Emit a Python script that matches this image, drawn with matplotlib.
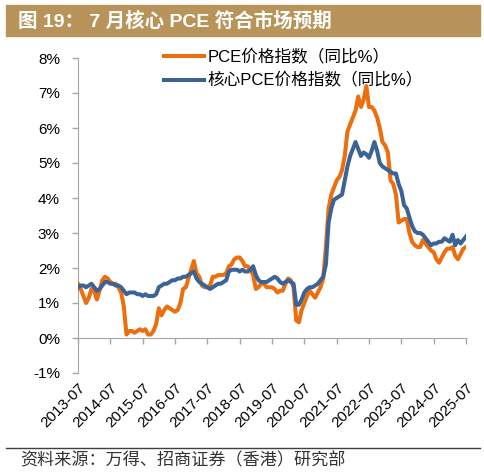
import numpy as np
import matplotlib.pyplot as plt
from matplotlib.patches import Rectangle
from matplotlib.lines import Line2D

plt.rcParams['font.family'] = ['Liberation Sans', 'Noto Sans CJK SC', 'DejaVu Sans']

# monthly YoY, 2013-07 .. 2025-07
pce = [1.55, 1.4, 1.2, 1.0, 1.15, 1.4,
       1.35, 1.1, 1.35, 1.65, 1.75, 1.7, 1.6, 1.55, 1.55, 1.45, 1.3, 0.9,
       0.1, 0.2, 0.2, 0.15, 0.2, 0.25, 0.2, 0.25, 0.1, 0.1, 0.2, 0.4,
       0.85, 0.65, 0.8, 0.9, 0.85, 0.8, 0.75, 0.8, 1.0, 1.4, 1.45, 1.7,
       1.95, 2.2, 1.85, 1.75, 1.5, 1.45, 1.45, 1.5, 1.75, 1.75, 1.8, 1.8,
       1.8, 1.85, 2.05, 2.1, 2.25, 2.3, 2.3, 2.2, 2.05, 2.05, 1.95, 1.8,
       1.4, 1.45, 1.55, 1.55, 1.45, 1.45, 1.45, 1.4, 1.3, 1.35, 1.35, 1.55,
       1.7, 1.65, 1.45, 0.5, 0.45, 0.8, 1.0, 1.2, 1.35, 1.25, 1.15, 1.3,
       1.45, 1.7, 2.6, 3.7, 4.1, 4.3, 4.5, 4.6, 4.8, 5.2, 5.9, 6.1,
       6.3, 6.5, 6.9, 6.6, 6.8, 7.2, 6.6, 6.6, 6.5, 6.3, 6.0, 5.6,
       5.5, 5.3, 4.5, 4.4, 4.1, 3.3, 3.35, 3.4, 3.4, 3.0, 2.75, 2.65,
       2.6, 2.6, 2.8, 2.7, 2.6, 2.5, 2.45, 2.25, 2.15, 2.3, 2.45, 2.55,
       2.55, 2.6, 2.35, 2.25, 2.4, 2.55, 2.6]
core = [1.45, 1.5, 1.5, 1.45, 1.5, 1.55,
        1.45, 1.35, 1.4, 1.5, 1.6, 1.6, 1.55, 1.55, 1.5, 1.5, 1.45, 1.35,
        1.25, 1.3, 1.3, 1.3, 1.25, 1.25, 1.2, 1.25, 1.2, 1.2, 1.2, 1.25,
        1.45, 1.5, 1.55, 1.55, 1.6, 1.65, 1.65, 1.7, 1.7, 1.75, 1.75, 1.8,
        1.85, 1.9, 1.7, 1.6, 1.55, 1.5, 1.45, 1.4, 1.45, 1.5, 1.55, 1.55,
        1.6, 1.65, 1.9, 1.95, 1.95, 1.95, 1.9, 1.95, 1.9, 1.9, 1.95, 2.05,
        1.8, 1.65, 1.6, 1.6, 1.6, 1.65, 1.7, 1.75, 1.7, 1.6, 1.55, 1.6,
        1.65, 1.6, 1.55, 0.95, 0.95, 1.1, 1.3, 1.4, 1.45, 1.45, 1.5, 1.55,
        1.65, 1.75, 2.1, 3.3, 3.7, 3.95, 4.0, 4.05, 4.1, 4.5, 4.9, 5.2,
        5.4, 5.6, 5.4, 5.2, 5.3, 5.25, 5.15, 5.35, 5.6, 5.35, 5.0, 4.9,
        4.85, 4.8, 4.75, 4.7, 4.7, 4.4, 4.2, 3.8, 3.7, 3.45, 3.2, 3.05,
        3.0, 3.0, 2.95, 2.85, 2.75, 2.65, 2.7, 2.7, 2.75, 2.75, 2.85, 2.8,
        2.75, 2.95, 2.65, 2.8, 2.7, 2.8, 2.9]
years = ['2013-07', '2014-07', '2015-07', '2016-07', '2017-07', '2018-07', '2019-07',
         '2020-07', '2021-07', '2022-07', '2023-07', '2024-07', '2025-07']
labels = ['PCE价格指数（同比%）', '核心PCE价格指数（同比%）']

orange = '#EC6E0D'
blue = '#3B6396'
grey = '#A6A6A6'

W, H = 485, 474
fig = plt.figure(figsize=(W / 100, H / 100), dpi=100)

# title bar
fig.patches.append(Rectangle((6 / W, 1 - 36 / H), 474 / W, 31 / H,
                             transform=fig.transFigure, color='#B8945A', zorder=0))
fig.text(18 / W, 1 - 21 / H, '图 19： 7 月核心 PCE 符合市场预期', color='white',
         fontsize=14, fontweight='bold', va='center', ha='left')

ax = fig.add_axes([78 / W, 1 - 373 / H, 388 / W, 315 / H])
x = np.arange(len(pce))
ax.plot(x, pce, color=orange, lw=2.9, solid_joinstyle='round', label=labels[0], zorder=3)
ax.plot(x, core, color=blue, lw=2.9, solid_joinstyle='round', label=labels[1], zorder=4)

ax.set_xlim(0, len(pce) - 1)
ax.set_ylim(-1, 8)
ax.set_yticks(range(-1, 9))
ax.set_yticklabels([f'{v}%' for v in range(-1, 9)])
ax.set_xticks(np.arange(0, len(pce), 12))
ax.set_xticklabels(years)

for s in ['top', 'right']:
    ax.spines[s].set_visible(False)
ax.spines['left'].set_color(grey)
ax.spines['bottom'].set_color(grey)
ax.spines['bottom'].set_position(('data', 0))
ax.tick_params(axis='y', colors=grey, length=4, width=1, labelsize=11, labelcolor='black', pad=9)
ax.tick_params(axis='x', colors=grey, length=4, width=1, labelsize=11, labelcolor='black', pad=27)
for t in ax.get_xticklabels():
    t.set_rotation(45)
    t.set_ha('right')
    t.set_rotation_mode('anchor')

handles = [Line2D([], [], color=orange, lw=2.9), Line2D([], [], color=blue, lw=2.9)]
fig.legend(handles, labels, loc='upper left', bbox_to_anchor=(164 / W, 1 - 49 / H),
           frameon=False, fontsize=12, handlelength=2.4, handletextpad=0.2,
           borderpad=0, borderaxespad=0, labelspacing=0.45)

# footer
fig.add_artist(Line2D([6 / W, 480 / W], [1 - 448 / H, 1 - 448 / H],
                      transform=fig.transFigure, color='#404040', lw=1))
fig.text(20 / W, 1 - 460 / H, '资料来源：万得、招商证券（香港）研究部', color='#333333',
         fontsize=12.3, style='italic', va='center', ha='left',
         family=['Noto Sans CJK SC', 'DejaVu Sans'])

fig.savefig('out.png', dpi=100)
